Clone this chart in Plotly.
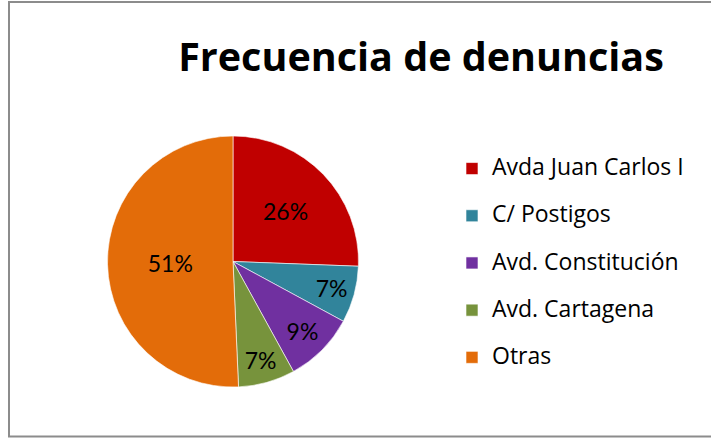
import plotly.graph_objects as go

categories = ["Avda Juan Carlos I", "C/ Postigos", "Avd. Constitución", "Avd. Cartagena", "Otras"]
values = [25.6, 7.3, 9.1, 7.3, 50.7]
colors = ["#C00000", "#31849B", "#7030A0", "#77933C", "#E36C09"]
title_text = "Frecuencia de denuncias"

W, H = 711, 438
cx, cy, r = 233, 261.5, 125.5

legend_labels = [f"<span style='font-size:23px'>{c}</span><br> " for c in categories]

fig = go.Figure(go.Pie(
    labels=legend_labels,
    values=values,
    sort=False,
    direction="clockwise",
    rotation=0,
    marker=dict(colors=colors, line=dict(color="white", width=0.6)),
    textinfo="percent",
    texttemplate="%{percent:.0%}",
    textposition="inside",
    insidetextorientation="horizontal",
    textfont=dict(family="Lato", size=23, color="black"),
    hoverinfo="skip",
    domain=dict(x=[(cx - r) / W, (cx + r) / W], y=[(H - cy - r) / H, (H - cy + r) / H]),
))

fig.update_layout(
    width=W, height=H,
    margin=dict(l=0, r=0, t=0, b=0),
    paper_bgcolor="white",
    plot_bgcolor="white",
    font=dict(family="Open Sans", color="black"),
    title=dict(text=f"<b>{title_text}</b>", x=421 / W, xanchor="center",
               y=1 - 57 / H, yanchor="middle", yref="container",
               font=dict(family="Open Sans", size=39.5, color="black")),
    legend=dict(x=452 / W, xanchor="left", y=1 - 151 / H, yanchor="top",
                font=dict(family="Open Sans", size=17.0, color="black"),
                valign="top", bgcolor="rgba(0,0,0,0)"),
    showlegend=True,
    shapes=[dict(type="rect", xref="paper", yref="paper",
                 x0=9 / W, x1=1.02, y0=1.5 / H, y1=1 - 2 / H,
                 line=dict(color="#8C8C8C", width=2), fillcolor="rgba(0,0,0,0)")],
)

fig.write_html("out.html", config={"displayModeBar": False},
               post_script="document.body.style.margin='0px';")
